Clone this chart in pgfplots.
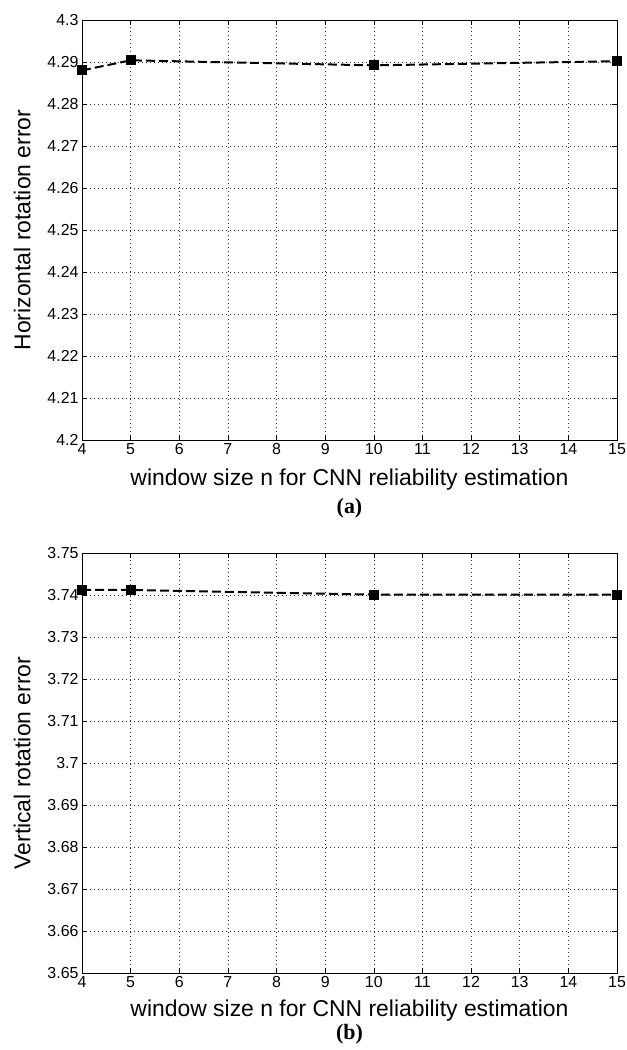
\documentclass[border=0pt]{standalone}
\usepackage{pgfplots}
\pgfplotsset{compat=1.18}
\usepackage{fontspec}
\setmainfont{Liberation Sans}
\newfontfamily\capfont{Liberation Serif}
\pgfplotsset{
  mystyle/.style={
    scale only axis, width=535bp, height=420bp,
    xmin=4, xmax=15, xtick={4,...,15},
    grid=major, major grid style={black!80, dash pattern=on 1bp off 3bp, line width=0.6pt},
    tick align=inside, tick pos=both,
    major tick length=5bp,
    axis line style={line width=0.8pt},
    every tick/.style={black, line width=0.6pt},
    tick label style={font=\fontsize{16}{16}\selectfont},
    xticklabel style={yshift=0bp},
    /pgf/number format/assume math mode=true,
    label style={font=\fontsize{23}{23}\selectfont},
    ylabel style={at={(axis description cs:-0.112,0.5)}, anchor=center},
    clip=false,
  }
}
\begin{document}
\begin{tikzpicture}
\useasboundingbox (0,0) rectangle (627bp,-1050bp);
\begin{axis}[mystyle, at={(82bp,-20bp)}, anchor=north west,
  ymin=4.2, ymax=4.3, ytick={4.2,4.21,...,4.3},
  yticklabels={4.2,4.21,4.22,4.23,4.24,4.25,4.26,4.27,4.28,4.29,4.3},
  xlabel style={at={(axis description cs:0.5,0)}, anchor=center, yshift=-40bp},
  xlabel={window size n for CNN reliability estimation},
  ylabel={Horizontal rotation error}]
\addplot[black, line width=2pt, dash pattern=on 9bp off 4bp, mark=square*, mark size=4bp, mark options={solid}]
 coordinates {(4,4.2880) (5,4.2904) (10,4.2892) (15,4.2902)};
\node[font=\capfont\bfseries\fontsize{22}{22}\selectfont] at (rel axis cs:0.5,0) [yshift=-68bp] {(a)};
\end{axis}
\begin{axis}[mystyle, at={(82bp,-553bp)}, anchor=north west,
  ymin=3.65, ymax=3.75, ytick={3.65,3.66,...,3.75},
  yticklabels={3.65,3.66,3.67,3.68,3.69,3.7,3.71,3.72,3.73,3.74,3.75},
  xlabel style={at={(axis description cs:0.5,0)}, anchor=center, yshift=-38bp},
  xlabel={window size n for CNN reliability estimation},
  ylabel={Vertical rotation error}]
\addplot[black, line width=2pt, dash pattern=on 9bp off 4bp, mark=square*, mark size=4bp, mark options={solid}]
 coordinates {(4,3.7412) (5,3.7412) (10,3.7401) (15,3.7401)};
\node[font=\capfont\bfseries\fontsize{22}{22}\selectfont] at (rel axis cs:0.5,0) [yshift=-61bp] {(b)};
\end{axis}
\end{tikzpicture}
\end{document}
